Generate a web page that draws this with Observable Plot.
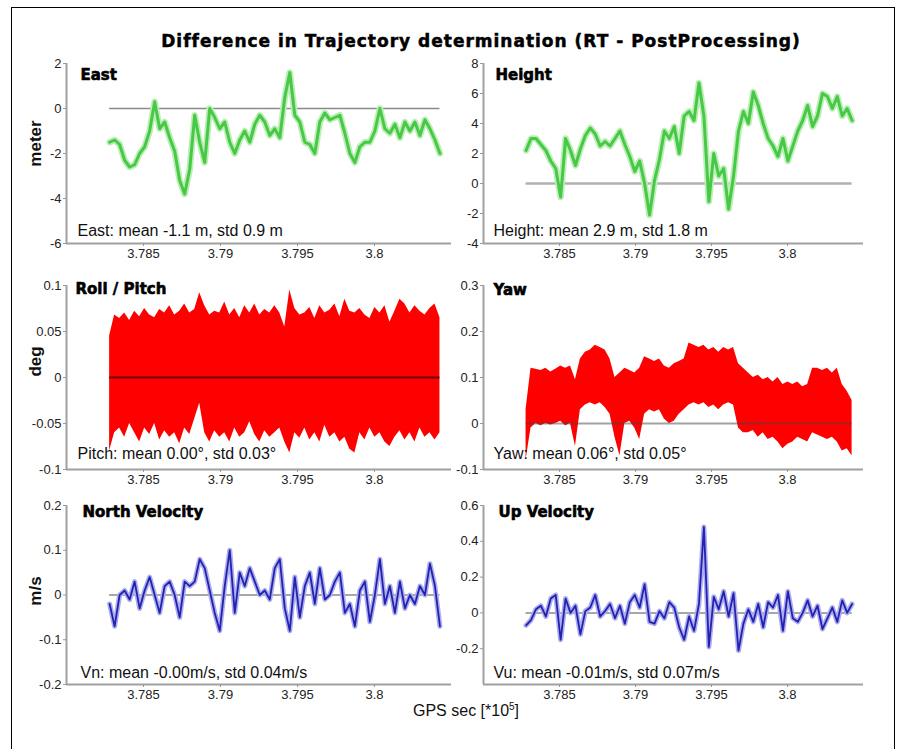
<!DOCTYPE html>
<html>
<head>
<meta charset="utf-8">
<script src="https://cdn.jsdelivr.net/npm/d3@7"></script>
<script src="https://cdn.jsdelivr.net/npm/@observablehq/plot@0.6"></script>
<style>
  body { margin: 0; background: #fff; }
  #wrap { position: relative; width: 898px; height: 749px; overflow: hidden; background: #fff;
          font-family: "Liberation Sans", Arial, sans-serif; }
  #frame { position: absolute; left: 11px; top: 7px; width: 884px; height: 770px;
           border: 1.5px solid #000; box-sizing: border-box; }
  #title { position: absolute; left: 100px; width: 762px; top: 31px; text-align: center;
           font-family: "DejaVu Sans", sans-serif; font-weight: bold; font-size: 17px; letter-spacing: 1px;
           -webkit-text-stroke: 0.5px #000; color: #000; white-space: nowrap; }
  #xlabel { position: absolute; left: 413px; top: 701px; font-size: 16px; color: #111; white-space: nowrap; }
  #xlabel sup { font-size: 10px; }
  .panel { position: absolute; }
</style>
</head>
<body>
<div id="wrap">
  <div id="frame"></div>
  <div id="title">Difference in Trajectory determination (RT - PostProcessing)</div>
  <div id="xlabel">GPS sec [*10<sup>5</sup>]</div>
</div>
<script>
// ---------------- data ----------------
const gpsTime = [3.7828, 3.783125, 3.78345, 3.783775, 3.7841, 3.784425, 3.78475, 3.785075, 3.7854, 3.785725,
  3.78605, 3.786375, 3.7867, 3.787025, 3.78735, 3.787675, 3.788, 3.788325, 3.78865, 3.788975,
  3.7893, 3.789625, 3.78995, 3.790275, 3.7906, 3.790925, 3.79125, 3.791575, 3.7919, 3.792225,
  3.79255, 3.792875, 3.7932, 3.793525, 3.79385, 3.794175, 3.7945, 3.794825, 3.79515, 3.795475,
  3.7958, 3.796125, 3.79645, 3.796775, 3.7971, 3.797425, 3.79775, 3.798075, 3.7984, 3.798725,
  3.79905, 3.799375, 3.7997, 3.800025, 3.80035, 3.800675, 3.801, 3.801325, 3.80165, 3.801975,
  3.8023, 3.802625, 3.80295, 3.803275, 3.8036, 3.803925, 3.80425];

const eastDiff = [-1.5, -1.4, -1.6, -2.3, -2.6, -2.5, -2.0, -1.7, -1.0, 0.3,
  -0.9, -0.6, -1.3, -1.9, -3.2, -3.8, -2.7, -0.3, -1.5, -2.4,
  0.0, -0.4, -0.9, -0.6, -1.5, -2.0, -1.4, -1.0, -1.5, -0.7,
  -0.3, -0.6, -1.2, -0.9, -1.3, 0.5, 1.6, -0.3, -0.6, -1.5,
  -1.6, -2.0, -0.6, -0.2, -0.5, -0.4, -0.3, -1.1, -2.0, -2.4,
  -1.7, -1.5, -1.5, -1.0, 0.0, -0.9, -1.1, -0.7, -1.3, -0.6,
  -1.0, -0.6, -1.2, -0.5, -0.9, -1.4, -2.0];

const heightDiff = [2.2, 3.0, 3.0, 2.6, 2.2, 1.5, 1.0, -0.9, 3.0, 2.2,
  1.2, 2.3, 3.2, 3.7, 3.3, 2.5, 2.8, 2.5, 3.0, 3.5,
  2.6, 1.8, 0.8, 1.5, 0.0, -2.1, 0.2, 1.6, 3.5, 3.0,
  3.8, 2.0, 4.5, 4.8, 4.2, 6.7, 4.5, -1.2, 2.0, 0.5,
  1.0, -1.7, 0.5, 3.5, 4.8, 4.0, 6.1, 5.2, 4.0, 3.0,
  2.5, 1.8, 3.0, 1.5, 2.5, 3.5, 4.2, 5.2, 3.8, 4.5,
  6.0, 5.8, 5.0, 5.8, 4.5, 5.0, 4.2];

const pitchUpper = [0.045, 0.068, 0.064, 0.07, 0.062, 0.072, 0.066, 0.075, 0.068, 0.065,
  0.074, 0.07, 0.078, 0.068, 0.072, 0.08, 0.07, 0.074, 0.092, 0.078,
  0.068, 0.072, 0.07, 0.082, 0.068, 0.075, 0.065, 0.078, 0.07, 0.08,
  0.068, 0.074, 0.07, 0.078, 0.07, 0.055, 0.095, 0.075, 0.068, 0.07,
  0.076, 0.064, 0.078, 0.07, 0.073, 0.08, 0.066, 0.085, 0.072, 0.07,
  0.075, 0.068, 0.064, 0.076, 0.07, 0.078, 0.06, 0.072, 0.085, 0.08,
  0.07, 0.078, 0.072, 0.068, 0.075, 0.08, 0.065];

const pitchLower = [-0.08, -0.06, -0.055, -0.065, -0.05, -0.06, -0.07, -0.055, -0.062, -0.05,
  -0.068, -0.058, -0.065, -0.06, -0.072, -0.055, -0.062, -0.045, -0.028, -0.06,
  -0.07, -0.058, -0.065, -0.06, -0.07, -0.055, -0.065, -0.06, -0.048, -0.062,
  -0.07, -0.058, -0.065, -0.06, -0.055, -0.07, -0.082, -0.06, -0.066, -0.055,
  -0.068, -0.06, -0.07, -0.052, -0.065, -0.06, -0.07, -0.065, -0.078, -0.082,
  -0.06, -0.068, -0.055, -0.065, -0.06, -0.07, -0.075, -0.065, -0.058, -0.068,
  -0.06, -0.07, -0.055, -0.065, -0.06, -0.068, -0.06];

const yawUpper = [0.03, 0.12, 0.118, 0.115, 0.12, 0.112, 0.118, 0.125, 0.12, 0.125,
  0.095, 0.14, 0.155, 0.16, 0.17, 0.165, 0.16, 0.14, 0.1, 0.11,
  0.12, 0.115, 0.11, 0.12, 0.145, 0.14, 0.135, 0.14, 0.125, 0.12,
  0.13, 0.135, 0.14, 0.175, 0.17, 0.165, 0.17, 0.16, 0.165, 0.155,
  0.165, 0.16, 0.165, 0.13, 0.12, 0.11, 0.1, 0.105, 0.095, 0.1,
  0.09, 0.1, 0.085, 0.09, 0.085, 0.09, 0.08, 0.085, 0.12, 0.12,
  0.115, 0.12, 0.11, 0.12, 0.085, 0.07, 0.05];

const yawLower = [-0.08, -0.01, 0.0, -0.005, 0.0, -0.003, 0.0, 0.005, -0.005, 0.0,
  -0.05, 0.03, 0.04, 0.045, 0.04, 0.045, 0.035, 0.02, -0.03, -0.07,
  0.0, 0.005, -0.01, -0.035, 0.02, 0.03, 0.025, 0.03, 0.01, 0.0,
  0.005, 0.02, 0.03, 0.04, 0.045, 0.04, 0.045, 0.035, 0.04, 0.03,
  0.04, 0.045, 0.04, -0.01, -0.02, -0.02, -0.015, -0.03, -0.02, -0.035,
  -0.03, -0.04, -0.055, -0.045, -0.04, -0.03, -0.035, -0.04, -0.02, -0.025,
  -0.03, -0.035, -0.03, -0.04, -0.06, -0.055, -0.07];

const northVel = [-0.02, -0.07, 0.0, 0.01, -0.01, 0.03, -0.03, 0.01, 0.04, 0.0,
  -0.04, 0.02, 0.03, 0.0, -0.05, 0.03, 0.02, 0.03, 0.08, 0.06,
  0.01, -0.04, -0.08, 0.02, 0.1, -0.04, 0.05, 0.02, 0.06, 0.03,
  0.0, 0.01, -0.01, 0.06, 0.08, -0.03, -0.08, 0.04, -0.05, 0.02,
  0.05, -0.02, 0.06, -0.01, 0.0, 0.03, 0.05, -0.04, -0.02, -0.07,
  0.01, 0.03, -0.06, 0.0, 0.08, -0.02, 0.02, -0.04, 0.03, -0.03,
  0.0, -0.02, 0.02, 0.0, 0.07, 0.02, -0.07];

const upVel = [-0.07, -0.04, 0.02, 0.04, -0.02, 0.08, 0.1, -0.15, 0.08, 0.0,
  0.04, -0.12, 0.01, 0.03, 0.1, -0.02, 0.01, 0.05, -0.03, 0.04,
  -0.06, 0.06, 0.1, 0.03, 0.16, -0.05, -0.06, 0.01, -0.03, 0.06,
  0.03, -0.08, -0.15, -0.02, -0.1, 0.05, 0.48, -0.19, 0.09, 0.02,
  0.12, -0.02, 0.11, -0.21, -0.06, 0.02, -0.05, 0.05, -0.08, 0.06,
  0.03, 0.1, -0.1, 0.12, -0.03, -0.05, 0.0, 0.07, -0.02, 0.04,
  -0.09, -0.03, 0.03, -0.05, 0.07, 0.0, 0.05];

const xDomain = [3.78, 3.805];
const xTicks = [3.785, 3.79, 3.795, 3.8];
const xTickLabels = ["3.785", "3.79", "3.795", "3.8"];

const eastTicks = [-6, -4, -2, 0, 2];
const eastTickLabels = ["-6", "-4", "-2", "0", "2"];
const heightTicks = [-4, -2, 0, 2, 4, 6, 8];
const heightTickLabels = ["-4", "-2", "0", "2", "4", "6", "8"];
const pitchTicks = [-0.1, -0.05, 0, 0.05, 0.1];
const pitchTickLabels = ["-0.1", "-0.05", "0", "0.05", "0.1"];
const yawTicks = [-0.1, 0, 0.1, 0.2, 0.3];
const yawTickLabels = ["-0.1", "0", "0.1", "0.2", "0.3"];
const northTicks = [-0.2, -0.1, 0, 0.1, 0.2];
const northTickLabels = ["-0.2", "-0.1", "0", "0.1", "0.2"];
const upTicks = [-0.2, 0, 0.2, 0.4, 0.6];
const upTickLabels = ["-0.2", "0", "0.2", "0.4", "0.6"];

const panelTitles = ["East", "Height", "Roll / Pitch", "Yaw", "North Velocity", "Up Velocity"];
const panelStats = ["East: mean -1.1 m, std 0.9 m", "Height: mean 2.9 m, std 1.8 m",
  "Pitch: mean 0.00°, std 0.03°", "Yaw: mean 0.06°, std 0.05°",
  "Vn: mean -0.00m/s, std 0.04m/s", "Vu: mean -0.01m/s, std 0.07m/s"];
const rowLabels = ["meter", "deg", "m/s"];

// ---------------- drawing ----------------
const SANS = "Liberation Sans, Arial, sans-serif";
const BOLD = "DejaVu Sans, sans-serif";
const t0 = gpsTime[0], t1 = gpsTime[gpsTime.length - 1];

function lab(ticks, labels) { const m = new Map(ticks.map((t, i) => [t, labels[i]])); return d => m.get(d); }

const rowGeom = [
  {top: 50, h: 220, mT: 13, mB: 27, yl: -10},
  {top: 272, h: 220, mT: 13, mB: 23, yl: -16},
  {top: 492, h: 215, mT: 13, mB: 23, yl: -4}
];
const colGeom = [
  {left: 0, w: 460, mL: 66, mR: 9},
  {left: 420, w: 460, mL: 63, mR: 17}
];

function greenMarks(vals, zeroColor, zeroW) {
  return [
    Plot.ruleY([0], {x1: t0, x2: t1, stroke: zeroColor, strokeWidth: zeroW}),
    Plot.line(gpsTime, {x: gpsTime, y: vals, stroke: "#bdeeb6", strokeWidth: 6.5}),
    Plot.line(gpsTime, {x: gpsTime, y: vals, stroke: "#47c947", strokeWidth: 3})
  ];
}
function redMarks(lo, hi, zeroColor, zeroOpacity) {
  return [
    Plot.areaY(gpsTime, {x: gpsTime, y1: lo, y2: hi, fill: "#ff0000"}),
    Plot.ruleY([0], {x1: t0, x2: t1, stroke: zeroColor, strokeWidth: 2, strokeOpacity: zeroOpacity})
  ];
}
function blueMarks(vals) {
  return [
    Plot.ruleY([0], {x1: t0, x2: t1, stroke: "#8a8a8a", strokeWidth: 1.5}),
    Plot.line(gpsTime, {x: gpsTime, y: vals, stroke: "#acacee", strokeWidth: 5}),
    Plot.line(gpsTime, {x: gpsTime, y: vals, stroke: "#2222b0", strokeWidth: 1.8})
  ];
}

const panels = [
  {row: 0, col: 0, y: [-6, 2], ticks: eastTicks, labels: eastTickLabels, data: greenMarks(eastDiff, "#8a8a8a", 1.5),
   tdx: 14, tdy: 12, sdx: 11, sdy: -13},
  {row: 0, col: 1, y: [-4, 8], ticks: heightTicks, labels: heightTickLabels, data: greenMarks(heightDiff, "#b0b0b0", 2.5),
   tdx: 12, tdy: 12, sdx: 10, sdy: -13},
  {row: 1, col: 0, y: [-0.1, 0.1], ticks: pitchTicks, labels: pitchTickLabels, data: redMarks(pitchLower, pitchUpper, "#5a0000", 0.9),
   tdx: 9, tdy: 4, sdx: 11, sdy: -16},
  {row: 1, col: 1, y: [-0.1, 0.3], ticks: yawTicks, labels: yawTickLabels, data: redMarks(yawLower, yawUpper, "#444444", 0.5),
   tdx: 10, tdy: 5, sdx: 10, sdy: -16},
  {row: 2, col: 0, y: [-0.2, 0.2], ticks: northTicks, labels: northTickLabels, data: blueMarks(northVel),
   tdx: 16, tdy: 7, sdx: 14, sdy: -12},
  {row: 2, col: 1, y: [-0.4, 0.6], ticks: upTicks, labels: upTickLabels, data: blueMarks(upVel),
   tdx: 15, tdy: 7, sdx: 10, sdy: -12}
];

const wrap = document.getElementById("wrap");
panels.forEach((p, i) => {
  const r = rowGeom[p.row], c = colGeom[p.col];
  const marks = [
    ...p.data,
    Plot.ruleX([xDomain[0]], {stroke: "#a0a0a0", strokeWidth: 2}),
    Plot.ruleY([p.y[0]], {stroke: "#a0a0a0", strokeWidth: 2}),
    Plot.axisX({ticks: xTicks, tickFormat: lab(xTicks, xTickLabels), tickSize: 3, tickPadding: 2,
      label: null, fontSize: 13, fill: "#222", stroke: "#999", fontFamily: SANS, letterSpacing: "0.8px"}),
    Plot.axisY({ticks: p.ticks, tickFormat: lab(p.ticks, p.labels), tickSize: 3, tickPadding: 2,
      label: null, fontSize: 13, fill: "#222", stroke: "#999", fontFamily: SANS}),
    Plot.text([panelTitles[i]], {frameAnchor: "top-left", textAnchor: "start", lineAnchor: "middle",
      dx: p.tdx, dy: p.tdy, fontFamily: BOLD, fontWeight: "bold", fontSize: 15, fill: "#000",
      stroke: "#000", strokeWidth: 0.6, text: d => d}),
    Plot.text([panelStats[i]], {frameAnchor: "bottom-left", textAnchor: "start", lineAnchor: "middle",
      dx: p.sdx, dy: p.sdy, fontFamily: SANS, fontSize: 16, fill: "#111", text: d => d})
  ];
  if (p.col === 0) {
    marks.push(Plot.text([rowLabels[p.row]], {frameAnchor: "left", textAnchor: "middle", lineAnchor: "middle",
      dx: -31, dy: r.yl, rotate: -90, fontFamily: SANS, fontWeight: "bold", fontSize: 17, fill: "#111", text: d => d}));
  }
  const svg = Plot.plot({
    width: c.w, height: r.h,
    marginLeft: c.mL, marginRight: c.mR, marginTop: r.mT, marginBottom: r.mB,
    style: {background: "transparent", overflow: "visible", fontFamily: SANS, fontSize: "13px"},
    x: {domain: xDomain, label: null},
    y: {domain: p.y, label: null},
    marks
  });
  svg.classList.add("panel");
  svg.style.left = c.left + "px";
  svg.style.top = r.top + "px";
  svg.style.position = "absolute";
  svg.style.maxWidth = "none";
  wrap.appendChild(svg);
});
</script>
</body>
</html>
